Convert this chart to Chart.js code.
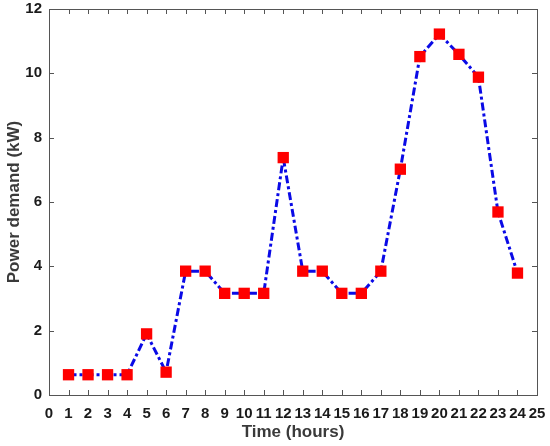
<!DOCTYPE html>
<html>
<head>
<meta charset="utf-8">
<script src="https://cdn.jsdelivr.net/npm/chart.js@4/dist/chart.umd.min.js"></script>
<style>
  html, body { margin: 0; padding: 0; background: #fff; }
  #wrap { width: 550px; height: 446px; }
</style>
</head>
<body>
<div id="wrap"><canvas id="myChart" width="550" height="446"></canvas></div>
<script>
// hours of the day and the demand
const hours = [1, 2, 3, 4, 5, 6, 7, 8, 9, 10, 11, 12, 13, 14, 15, 16, 17, 18, 19, 20, 21, 22, 23, 24];
const demand = [0.63, 0.63, 0.63, 0.63, 1.9, 0.71, 3.85, 3.85, 3.16, 3.16, 3.16, 7.38,
                3.85, 3.85, 3.16, 3.16, 3.85, 7.02, 10.52, 11.22, 10.59, 9.88, 5.69, 3.79];
const xTicks = [0, 1, 2, 3, 4, 5, 6, 7, 8, 9, 10, 11, 12, 13, 14, 15, 16, 17, 18, 19, 20, 21, 22, 23, 24, 25];
const yTicks = [0, 2, 4, 6, 8, 10, 12];

let ctx = document.getElementById('myChart').getContext('2d');

let points = hours.map((h, i) => ({ x: h, y: demand[i] }));

// box round the plot with inward ticks on every side
let frameTicks = {
    id: 'frameTicks',
    afterDraw(chart) {
        let c = chart.ctx;
        let a = chart.chartArea;
        let xs = chart.scales.x;
        let ys = chart.scales.y;
        c.save();
        c.strokeStyle = '#555';
        c.lineWidth = 1;
        c.strokeRect(a.left + 0.5, a.top + 0.5, a.right - a.left, a.bottom - a.top);
        c.beginPath();
        xTicks.forEach(v => {
            let px = Math.round(xs.getPixelForValue(v)) + 0.5;
            c.moveTo(px, a.bottom); c.lineTo(px, a.bottom - 5);
            c.moveTo(px, a.top); c.lineTo(px, a.top + 5);
        });
        yTicks.forEach(v => {
            let py = Math.round(ys.getPixelForValue(v)) + 0.5;
            c.moveTo(a.left, py); c.lineTo(a.left + 5, py);
            c.moveTo(a.right, py); c.lineTo(a.right - 5, py);
        });
        c.stroke();
        c.restore();
    }
};

let myChart = new Chart(ctx, {
    type: 'line',
    data: {
        datasets: [{
            label: 'Power demand',
            data: points,
            borderColor: '#0a0ae6',
            borderWidth: 3,
            borderDash: [8, 3, 3, 3],
            pointStyle: 'rect',
            pointRadius: 8,
            pointBackgroundColor: '#ff0000',
            pointBorderColor: '#ff0000',
            pointBorderWidth: 0,
            tension: 0,
            clip: false
        }]
    },
    options: {
        responsive: false,
        animation: false,
        layout: { padding: { top: 9, right: 13, left: 0, bottom: 0 } },
        plugins: {
            legend: { display: false },
            tooltip: { enabled: false }
        },
        scales: {
            x: {
                type: 'linear',
                min: 0,
                max: 25,
                afterBuildTicks: scale => { scale.ticks = xTicks.map(v => ({ value: v })); },
                afterFit: scale => {
                    scale.height = 51;
                    scale.paddingLeft = 0;
                    scale.paddingRight = 0;
                },
                grid: { display: false, drawTicks: false },
                border: { display: false },
                ticks: {
                    padding: 10,
                    color: '#1a1a1a',
                    font: { family: 'Liberation Sans', size: 15, weight: 'bold' },
                    maxRotation: 0,
                    autoSkip: false
                },
                title: {
                    display: true,
                    text: 'Time (hours)',
                    color: '#3a3a3a',
                    font: { family: 'Liberation Sans', size: 17, weight: 'bold' },
                    padding: { top: 1, bottom: 3 }
                }
            },
            y: {
                min: 0,
                max: 12,
                afterBuildTicks: scale => { scale.ticks = yTicks.map(v => ({ value: v })); },
                afterFit: scale => {
                    scale.width = 49;
                    scale.paddingTop = 0;
                    scale.paddingBottom = 0;
                },
                grid: { display: false, drawTicks: false },
                border: { display: false },
                ticks: {
                    padding: 7,
                    color: '#1a1a1a',
                    font: { family: 'Liberation Sans', size: 15, weight: 'bold' }
                },
                title: {
                    display: true,
                    text: 'Power demand (kW)',
                    color: '#3a3a3a',
                    font: { family: 'Liberation Sans', size: 17, weight: 'bold' },
                    padding: { top: 4, bottom: 0 }
                }
            }
        }
    },
    plugins: [frameTicks]
});
</script>
</body>
</html>
